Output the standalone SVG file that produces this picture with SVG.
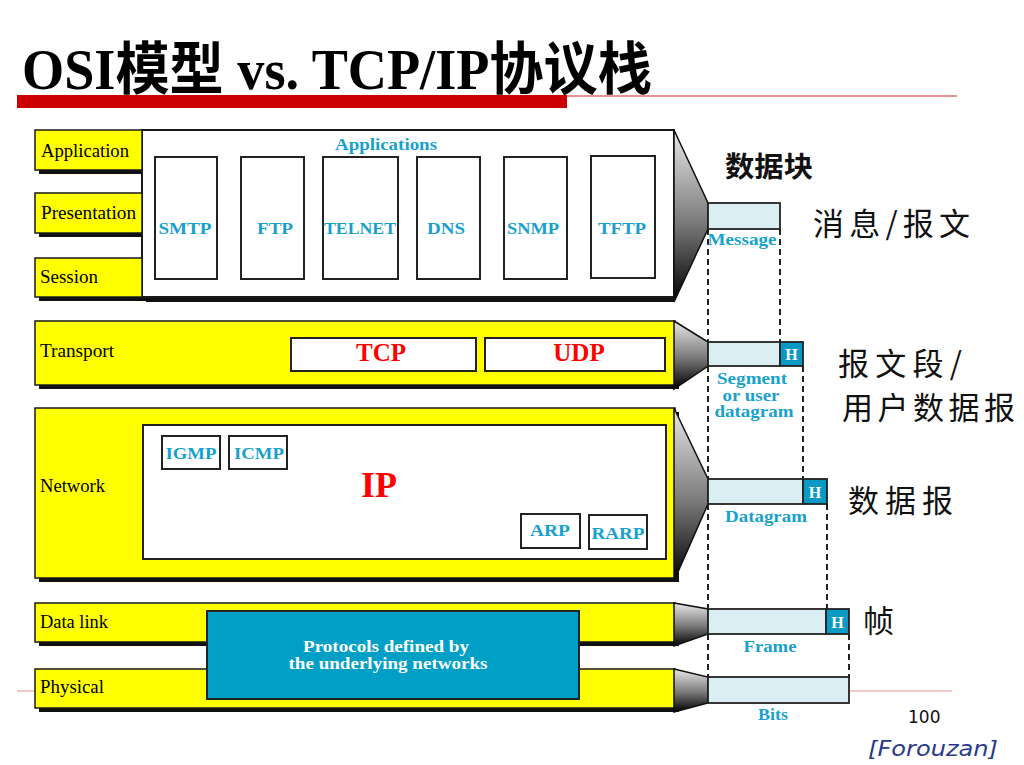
<svg xmlns="http://www.w3.org/2000/svg" width="1024" height="765" viewBox="0 0 1024 765">
<defs>
<linearGradient id="funnel" x1="0" y1="0" x2="0" y2="1">
<stop offset="0" stop-color="#e8e8e8"/>
<stop offset="0.55" stop-color="#777"/>
<stop offset="1" stop-color="#000"/>
</linearGradient>
<style>
.ybox{fill:#ffff00;stroke:#1a1a1a;stroke-width:1.5}
.shadow{fill:#111}
.wbox{fill:#fff;stroke:#1a1a1a;stroke-width:2}
.ibox{fill:#fff;stroke:#222;stroke-width:2}
.funnel{fill:url(#funnel);stroke:#111;stroke-width:1.5}
.bar{fill:#dbeef4;stroke:#222;stroke-width:1.8}
.hbox{fill:#0899c4;stroke:#222;stroke-width:1.8}
.layer{font-family:"Liberation Serif",serif;font-size:18px;fill:#000}
.blue{font-family:"Liberation Serif",serif;font-weight:bold;font-size:16px;fill:#18a1cc;text-anchor:middle}
.red{font-family:"Liberation Serif",serif;font-weight:bold;fill:#ff0000;text-anchor:middle}
.h{font-family:"Liberation Serif",serif;font-weight:bold;font-size:16px;fill:#fff;text-anchor:middle}
.white{font-family:"Liberation Serif",serif;font-weight:bold;font-size:16px;fill:#fff;text-anchor:middle}
.cjk{font-family:"Noto Sans CJK SC",sans-serif;font-size:31px;fill:#111}
.dash{stroke:#222;stroke-width:2;stroke-dasharray:6 4;fill:none}
</style>
</defs>
<rect x="0" y="0" width="1024" height="765" fill="#fff"/>

<g id="title">
<line x1="17" y1="96" x2="957" y2="96" stroke="#e06c6c" stroke-width="1.5"/>
<rect x="17" y="95" width="550" height="13" fill="#cc0000"/>
<text x="22" y="89" font-family="'Liberation Serif','Noto Sans CJK SC',serif" font-weight="bold" font-size="57" textLength="630" lengthAdjust="spacingAndGlyphs">OSI模型 vs. TCP/IP协议栈</text>
</g>

<line x1="17" y1="691" x2="952" y2="691" stroke="#f5b5b5" stroke-width="1.5"/>

<g id="connectors">
<line class="dash" x1="708" y1="229" x2="708" y2="342"/>
<line class="dash" x1="708" y1="366" x2="708" y2="479"/>
<line class="dash" x1="708" y1="504" x2="708" y2="609"/>
<line class="dash" x1="708" y1="634" x2="708" y2="677"/>
<line class="dash" x1="780" y1="229" x2="780" y2="342"/>
<line class="dash" x1="803" y1="366" x2="803" y2="479"/>
<line class="dash" x1="827" y1="504" x2="827" y2="609"/>
<line class="dash" x1="849" y1="634" x2="849" y2="677"/>
</g>

<g id="application-layers">
<rect class="shadow" x="39" y="134" width="107" height="40"/>
<rect class="shadow" x="39" y="197" width="107" height="40"/>
<rect class="shadow" x="39" y="262" width="107" height="39"/>
<rect class="shadow" x="146" y="134" width="528" height="168"/>
<rect class="wbox" x="142" y="130" width="532" height="167"/>
<rect class="ybox" x="35" y="130" width="107" height="40"/>
<rect class="ybox" x="35" y="193" width="107" height="40"/>
<rect class="ybox" x="35" y="258" width="107" height="39"/>
<text class="layer" x="41" y="157" textLength="88" lengthAdjust="spacingAndGlyphs">Application</text>
<text class="layer" x="41" y="219" textLength="95" lengthAdjust="spacingAndGlyphs">Presentation</text>
<text class="layer" x="40" y="283" textLength="58" lengthAdjust="spacingAndGlyphs">Session</text>
<polygon class="funnel" points="674,130 708,203 708,229 674,302"/>
<text class="blue" x="386" y="150" textLength="102" lengthAdjust="spacingAndGlyphs">Applications</text>
<rect class="ibox" x="155" y="157" width="62" height="122"/>
<rect class="ibox" x="241" y="157" width="63" height="122"/>
<rect class="ibox" x="323" y="157" width="75" height="122"/>
<rect class="ibox" x="417" y="157" width="63" height="122"/>
<rect class="ibox" x="504" y="157" width="63" height="122"/>
<rect class="ibox" x="591" y="156" width="64" height="122"/>
<text class="blue" x="185" y="234" textLength="53" lengthAdjust="spacingAndGlyphs">SMTP</text>
<text class="blue" x="275" y="234" textLength="36" lengthAdjust="spacingAndGlyphs">FTP</text>
<text class="blue" x="360" y="234" textLength="72" lengthAdjust="spacingAndGlyphs">TELNET</text>
<text class="blue" x="446" y="234" textLength="38" lengthAdjust="spacingAndGlyphs">DNS</text>
<text class="blue" x="533" y="234" textLength="52" lengthAdjust="spacingAndGlyphs">SNMP</text>
<text class="blue" x="622" y="234" textLength="48" lengthAdjust="spacingAndGlyphs">TFTP</text>
</g>

<g id="transport">
<rect class="shadow" x="39" y="325" width="640" height="64"/>
<rect class="ybox" x="35" y="321" width="640" height="64"/>
<polygon class="funnel" points="674,321 708,342 708,366 674,389"/>
<text class="layer" x="40" y="357" textLength="74" lengthAdjust="spacingAndGlyphs">Transport</text>
<rect class="ibox" x="291" y="338" width="185" height="33"/>
<rect class="ibox" x="485" y="338" width="180" height="33"/>
<text class="red" x="381" y="361" font-size="25">TCP</text>
<text class="red" x="579" y="361" font-size="25">UDP</text>
</g>

<g id="network">
<rect class="shadow" x="39" y="412" width="640" height="170"/>
<rect class="ybox" x="35" y="408" width="640" height="170"/>
<polygon class="funnel" points="674,408 708,479 708,504 674,581"/>
<text class="layer" x="40" y="492" textLength="65" lengthAdjust="spacingAndGlyphs">Network</text>
<rect class="ibox" x="143" y="425" width="523" height="134"/>
<rect class="ibox" x="162" y="436" width="58" height="33"/>
<rect class="ibox" x="229" y="436" width="58" height="33"/>
<rect class="ibox" x="521" y="514" width="59" height="34"/>
<rect class="ibox" x="589" y="515" width="58" height="34"/>
<text class="blue" x="191" y="459" textLength="51" lengthAdjust="spacingAndGlyphs">IGMP</text>
<text class="blue" x="259" y="459" textLength="50" lengthAdjust="spacingAndGlyphs">ICMP</text>
<text class="blue" x="550" y="536" textLength="40" lengthAdjust="spacingAndGlyphs">ARP</text>
<text class="blue" x="618" y="539" textLength="53" lengthAdjust="spacingAndGlyphs">RARP</text>
<text class="red" x="379" y="497" font-size="36">IP</text>
</g>

<g id="datalink-physical">
<rect class="shadow" x="39" y="607" width="640" height="39"/>
<rect class="ybox" x="35" y="603" width="640" height="39"/>
<polygon class="funnel" points="674,603 708,609 708,634 674,646"/>
<text class="layer" x="40" y="628" textLength="68" lengthAdjust="spacingAndGlyphs">Data link</text>
<rect class="shadow" x="39" y="673" width="640" height="39"/>
<rect class="ybox" x="35" y="669" width="640" height="39"/>
<polygon class="funnel" points="674,669 708,677 708,703 674,712"/>
<text class="layer" x="40" y="693" textLength="64" lengthAdjust="spacingAndGlyphs">Physical</text>
<rect x="207" y="611" width="372" height="88" fill="#00a0c6" stroke="#222" stroke-width="2"/>
<text class="white" x="386" y="652" textLength="166" lengthAdjust="spacingAndGlyphs">Protocols defined by</text>
<text class="white" x="388" y="669" textLength="199" lengthAdjust="spacingAndGlyphs">the underlying networks</text>
</g>

<g id="data-units">
<rect class="bar" x="708" y="203" width="72" height="26"/>
<text class="blue" x="742" y="245" font-size="14" textLength="69" lengthAdjust="spacingAndGlyphs">Message</text>

<rect class="bar" x="708" y="342" width="72" height="24"/>
<rect class="hbox" x="780" y="342" width="23" height="24"/>
<text class="h" x="791.5" y="360">H</text>
<text class="blue" x="752" y="384" font-size="14" textLength="70" lengthAdjust="spacingAndGlyphs">Segment</text>
<text class="blue" x="751" y="401" font-size="14" textLength="57" lengthAdjust="spacingAndGlyphs">or user</text>
<text class="blue" x="754" y="417" font-size="14" textLength="79" lengthAdjust="spacingAndGlyphs">datagram</text>

<rect class="bar" x="708" y="479" width="95" height="25"/>
<rect class="hbox" x="803" y="479" width="24" height="25"/>
<text class="h" x="815" y="497.5">H</text>
<text class="blue" x="766" y="522" font-size="14" textLength="82" lengthAdjust="spacingAndGlyphs">Datagram</text>

<rect class="bar" x="708" y="609" width="118" height="25"/>
<rect class="hbox" x="826" y="609" width="23" height="25"/>
<text class="h" x="837.5" y="627.5">H</text>
<text class="blue" x="770" y="652" font-size="14" textLength="53" lengthAdjust="spacingAndGlyphs">Frame</text>

<rect class="bar" x="708" y="677" width="141" height="26"/>
<text class="blue" x="773" y="720" font-size="14" textLength="30" lengthAdjust="spacingAndGlyphs">Bits</text>
</g>

<g id="cjk-labels">
<text x="725" y="177" font-family="'Noto Sans CJK SC',sans-serif" font-weight="bold" font-size="28" fill="#111" textLength="88" lengthAdjust="spacingAndGlyphs">数据块</text>
<text class="cjk" x="813" y="235" textLength="157" lengthAdjust="spacing">消息/报文</text>
<text class="cjk" x="838" y="375" textLength="124" lengthAdjust="spacing">报文段/</text>
<text class="cjk" x="842" y="419" textLength="173" lengthAdjust="spacing">用户数据报</text>
<text class="cjk" x="848" y="512" textLength="105" lengthAdjust="spacing">数据报</text>
<text class="cjk" x="863" y="632">帧</text>
</g>

<g id="footer">
<text x="908" y="723" font-family="'DejaVu Sans',sans-serif" font-size="17" fill="#111">100</text>
<text x="868" y="756" font-family="'DejaVu Sans',sans-serif" font-style="italic" font-size="22" fill="#2a3a8c" textLength="130" lengthAdjust="spacingAndGlyphs">[Forouzan]</text>
</g>
</svg>
